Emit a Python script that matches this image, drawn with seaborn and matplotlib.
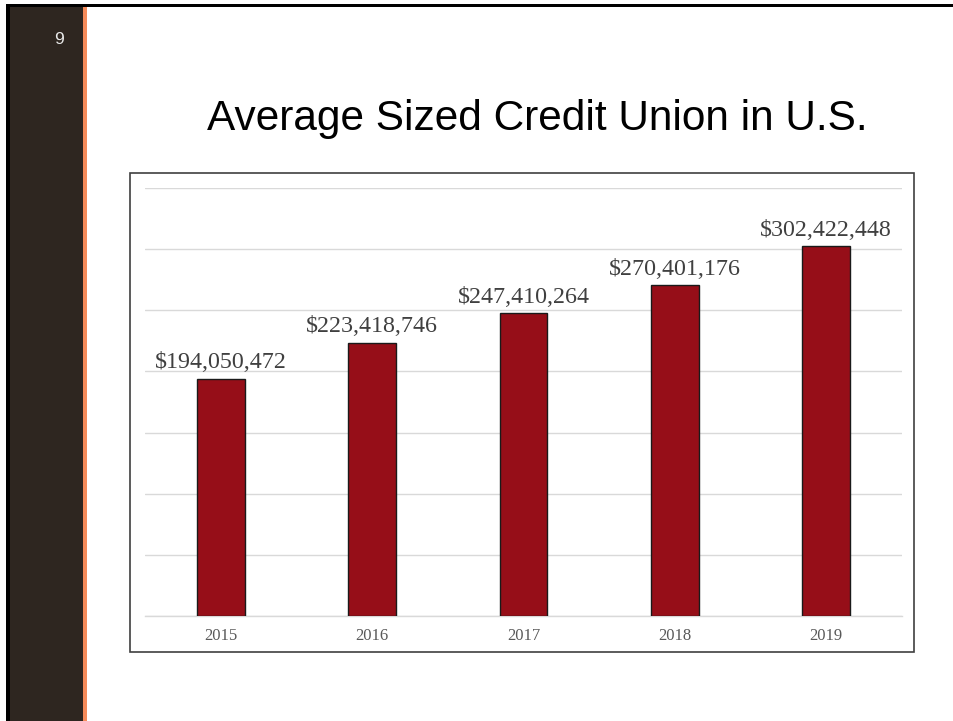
import matplotlib
matplotlib.use("Agg")
import matplotlib.pyplot as plt
from matplotlib.patches import Rectangle
import seaborn as sns
import pandas as pd

years = ["2015", "2016", "2017", "2018", "2019"]
avg_assets = [194050472, 223418746, 247410264, 270401176, 302422448]
title = "Average Sized Credit Union in U.S."
slide_number = "9"

W, H = 954, 721
sns.set_theme(style="white")
fig = plt.figure(figsize=(W / 100, H / 100), dpi=100)
fig.patch.set_facecolor("white")


def fx(px):
    return px / W


def fy(py):
    return 1 - py / H


# slide frame: black outer edge, dark sidebar, orange accent line
fig.add_artist(Rectangle((fx(6), 0), fx(4), fy(4), transform=fig.transFigure,
                         facecolor="black", edgecolor="none", zorder=0))
fig.add_artist(Rectangle((fx(6), fy(7)), 1 - fx(6), fy(4) - fy(7), transform=fig.transFigure,
                         facecolor="black", edgecolor="none", zorder=0))
fig.add_artist(Rectangle((fx(10), 0), fx(73), fy(7), transform=fig.transFigure,
                         facecolor="#2E2620", edgecolor="none", zorder=0))
fig.add_artist(Rectangle((fx(83), 0), fx(4), fy(7), transform=fig.transFigure,
                         facecolor="#F58B5A", edgecolor="none", zorder=0))
fig.text(fx(59), fy(39), slide_number, color="#E8E8E8", fontsize=12.5,
         family="Liberation Sans", ha="center", va="center")

fig.text(fx(537), fy(130), title, fontsize=30.5, family="Liberation Sans",
         color="black", ha="center", va="baseline")

# chart frame
fig.add_artist(Rectangle((fx(130), fy(652)), fx(914) - fx(130), fy(173) - fy(652),
                         transform=fig.transFigure, fill=False,
                         edgecolor="#404040", linewidth=1.2, zorder=1))

ax = fig.add_axes([fx(145), fy(616), fx(902) - fx(145), fy(188) - fy(616)])
ax.set_facecolor("none")

df = pd.DataFrame({"year": years, "value": avg_assets})
sns.barplot(data=df, x="year", y="value", color="#960E18", width=0.317,
            edgecolor="#1A1A1A", linewidth=1, saturation=1, ax=ax, zorder=3)

ax.set_ylim(0, 350e6)
ax.set_xlim(-0.5, len(years) - 0.5)
ax.set_yticks([i * 50e6 for i in range(8)])
ax.yaxis.grid(True, color="#D9D9D9", linewidth=1)
ax.set_axisbelow(True)
ax.tick_params(axis="y", left=False, labelleft=False)
ax.tick_params(axis="x", bottom=False, pad=3, labelsize=12, labelcolor="#595959")
for lab in ax.get_xticklabels():
    lab.set_family("Liberation Serif")
for name, s in ax.spines.items():
    s.set_visible(name == "bottom")
ax.spines["bottom"].set_color("#D9D9D9")
ax.spines["bottom"].set_linewidth(1)
ax.set_xlabel("")
ax.set_ylabel("")

ax.bar_label(ax.containers[0], labels=[f"${v:,.0f}" for v in avg_assets],
             padding=4, fontsize=17.3, family="Liberation Serif", color="#404040")

fig.savefig("out.png", dpi=100)
